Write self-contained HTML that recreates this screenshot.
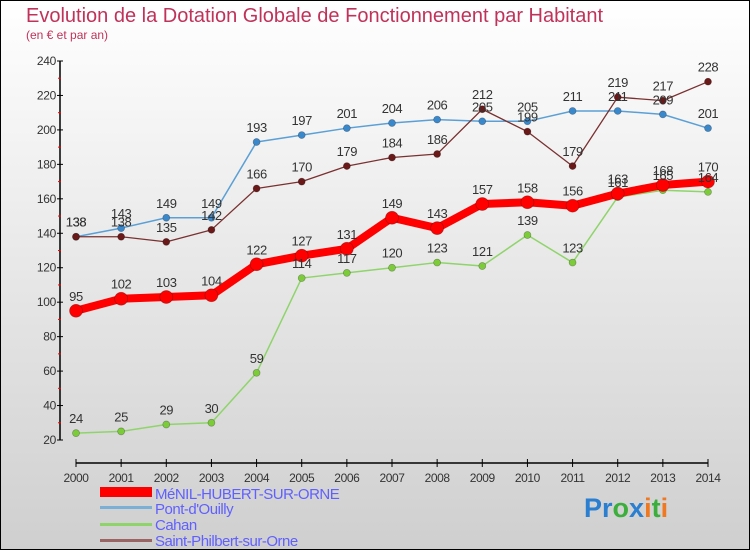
<!DOCTYPE html>
<html><head><meta charset="utf-8"><style>
body{margin:0;width:750px;height:550px;overflow:hidden}
svg{display:block;font-family:"Liberation Sans",sans-serif}
</style></head><body>
<svg id="c" width="750" height="550" viewBox="0 0 750 550">
<defs><linearGradient id="bg" x1="0" y1="0" x2="0" y2="1"><stop offset="0" stop-color="#ffffff"/><stop offset="1" stop-color="#cfcfcf"/></linearGradient></defs>
<rect x="0.5" y="0.5" width="749" height="549" fill="url(#bg)" stroke="#000"/>
<text x="26" y="22" font-size="20" fill="#c0325a">Evolution de la Dotation Globale de Fonctionnement par Habitant</text>
<text x="26" y="39" font-size="12" fill="#c0325a">(en € et par an)</text>
<g id="axes"></g><g id="series"></g><g id="labels"></g>
<g>
<rect x="100" y="487" width="52" height="10" fill="#f00"/>
<rect x="100" y="506" width="52" height="3" fill="#7ab0d6"/>
<rect x="100" y="523" width="52" height="3" fill="#8fd46a"/>
<rect x="100" y="539" width="52" height="3" fill="#9a6464"/>
<g font-size="15" fill="#6060ff" letter-spacing="-0.5">
<text x="155" y="499">MéNIL-HUBERT-SUR-ORNE</text>
<text x="155" y="514">Pont-d'Ouilly</text>
<text x="155" y="530">Cahan</text>
<text x="155" y="546">Saint-Philbert-sur-Orne</text>
</g></g>
<text x="584" y="517" font-size="27" font-weight="bold"><tspan fill="#2a7fd0">Pr</tspan><tspan fill="#3cae3c">o</tspan><tspan fill="#2a7fd0">x</tspan><tspan fill="#f07820">i</tspan><tspan fill="#3cae3c">t</tspan><tspan fill="#f07820">i</tspan></text>
</svg>
<script>
const years=[2000,2001,2002,2003,2004,2005,2006,2007,2008,2009,2010,2011,2012,2013,2014];
const menil=[95,102,103,104,122,127,131,149,143,157,158,156,163,168,170];
const pont=[138,143,149,149,193,197,201,204,206,205,205,211,211,209,201];
const cahan=[24,25,29,30,59,114,117,120,123,121,139,123,161,165,164];
const spo=[138,138,135,142,166,170,179,184,186,212,199,179,219,217,228];
const yTicks=[20,40,60,80,100,120,140,160,180,200,220,240];
const NS='http://www.w3.org/2000/svg';
const X=i=>76+i*(708-76)/(years.length-1);
const Y=v=>440-(v-20)*(440-61)/220;
function mk(t,a,p){const e=document.createElementNS(NS,t);for(const k in a)e.setAttribute(k,a[k]);p.appendChild(e);return e;}
const ax=document.getElementById('axes');
let l=mk('line',{x1:60,y1:Y(240),x2:60,y2:Y(20),stroke:'#000','stroke-width':1.5},ax);


l=mk('line',{x1:76,y1:463,x2:708,y2:463,stroke:'#000','stroke-width':1.5},ax);


yTicks.forEach((v,i)=>{
 mk('line',{x1:57,x2:63,y1:Y(v),y2:Y(v),stroke:'#000'},ax);
 if(i<yTicks.length-1)mk('line',{x1:58,x2:61,y1:Y(v+10),y2:Y(v+10),stroke:'#f00'},ax);
 const t=mk('text',{x:56,y:Y(v)+4,'text-anchor':'end','font-size':12,fill:'#333','letter-spacing':'-0.3'},ax);t.textContent=v;
 
 
});
years.forEach((y,i)=>{
 mk('line',{x1:X(i),x2:X(i),y1:459,y2:467,stroke:'#000'},ax);
 const t=mk('text',{x:X(i),y:482,'text-anchor':'middle','font-size':12,fill:'#333','letter-spacing':'-0.4'},ax);t.textContent=y;
 
 
});
const sg=document.getElementById('series'),lg=document.getElementById('labels');
function draw(d,name,col,dot,w,r){
 const g=mk('g',{},sg);
 
 
 const p=mk('polyline',{points:d.map((v,i)=>X(i)+','+Y(v)).join(' '),fill:'none',stroke:col,'stroke-width':w,'stroke-linejoin':'round'},g);
 
 
 d.forEach((v,i)=>{
  const c=mk('circle',{cx:X(i),cy:Y(v),r:r,fill:dot,stroke:'rgba(0,0,0,0.3)','stroke-width':0.7},g);
  
  
  const t=mk('text',{x:X(i),y:Y(v)-10,'text-anchor':'middle','font-size':13,fill:'#333','letter-spacing':'-0.4'},lg);t.textContent=v;
  
  
 });
}
draw(cahan,'cahan','#8fd46a','#7ccc3a',1.5,3.5);
draw(pont,'pont','#5aa0d6','#3a88cc',1.5,3.5);
draw(spo,'spo','#7a3030','#6a1818',1.3,3.5);
draw(menil,'menil','#f00','#f00',8,6.5);
</script>
</body></html>
